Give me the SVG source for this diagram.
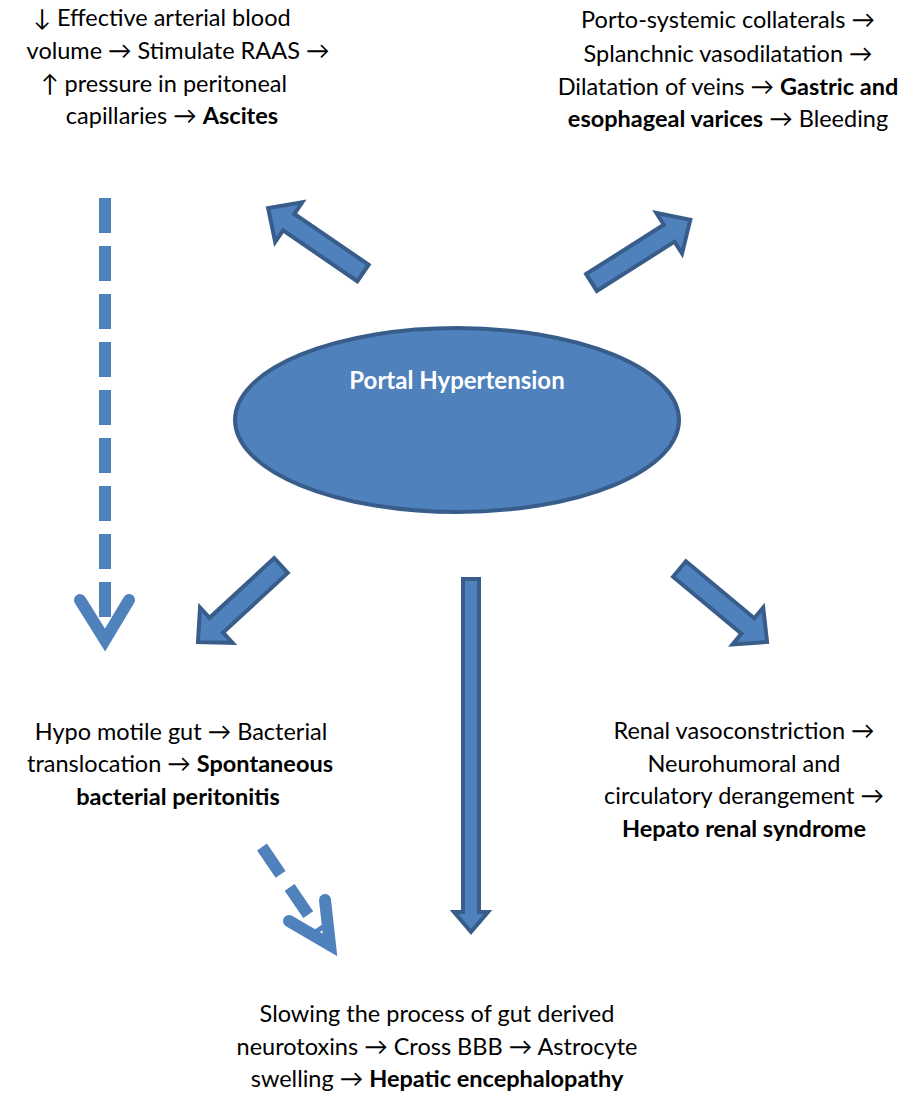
<svg xmlns="http://www.w3.org/2000/svg" width="914" height="1095" viewBox="0 0 914 1095">
<style>
.t{font-family:Lato,"Liberation Sans",sans-serif;font-size:23.5px;fill:#000;text-anchor:middle}
.b{font-weight:bold}
.blk{fill:#4F81BD;stroke:#385D8A;stroke-width:4;stroke-linejoin:miter}
.dash{fill:none;stroke:#4F81BD;stroke-width:12}
.head{fill:none;stroke:#4F81BD;stroke-width:12;stroke-linecap:round;stroke-linejoin:miter}
</style>
<rect width="914" height="1095" fill="#fff"/>
<g id="portal">
<ellipse cx="457" cy="420" rx="222" ry="92" fill="#4F81BD" stroke="#385D8A" stroke-width="4"/>
<text x="457" y="389" class="t b" style="fill:#fff;font-size:24px">Portal Hypertension</text>
</g>
<g id="ascites">
<text class="t" x="162" y="26">↓ Effective arterial blood</text>
<text class="t" x="178" y="59">volume → Stimulate RAAS →</text>
<text class="t" x="164" y="92">↑ pressure in peritoneal</text>
<text class="t" x="172" y="124">capillaries → <tspan class="b">Ascites</tspan></text>
</g>
<g id="varices">
<text class="t" x="728" y="28">Porto-systemic collaterals →</text>
<text class="t" x="728" y="62">Splanchnic vasodilatation →</text>
<text class="t" x="728" y="95">Dilatation of veins → <tspan class="b">Gastric and</tspan></text>
<text class="t" x="728" y="127"><tspan class="b">esophageal varices</tspan> → Bleeding</text>
</g>
<g id="sbp">
<text class="t" x="181" y="740">Hypo motile gut → Bacterial</text>
<text class="t" x="180" y="772">translocation → <tspan class="b">Spontaneous</tspan></text>
<text class="t" x="178" y="805"><tspan class="b">bacterial peritonitis</tspan></text>
</g>
<g id="hrs">
<text class="t" x="744" y="739">Renal vasoconstriction →</text>
<text class="t" x="744" y="772">Neurohumoral and</text>
<text class="t" x="744" y="804">circulatory derangement →</text>
<text class="t b" x="744" y="837">Hepato renal syndrome</text>
</g>
<g id="he">
<text class="t" x="437" y="1022">Slowing the process of gut derived</text>
<text class="t" x="437" y="1055">neurotoxins → Cross BBB → Astrocyte</text>
<text class="t" x="437" y="1087">swelling → <tspan class="b">Hepatic encephalopathy</tspan></text>
</g>
<g id="connectors">
<path class="blk" transform="translate(363,273) rotate(214.4)" d="M0,-10 L90,-10 L90,-24 L115,0 L90,24 L90,10 L0,10 Z"/>
<path class="blk" transform="translate(591.5,282.5) rotate(-32.4)" d="M0,-10 L92,-10 L92,-24 L117,0 L92,24 L92,10 L0,10 Z"/>
<path class="blk" transform="translate(281,565.5) rotate(137.3)" d="M0,-10 L88,-10 L88,-24 L113,0 L88,24 L88,10 L0,10 Z"/>
<path class="blk" transform="translate(679.5,569) rotate(39.8)" d="M0,-10 L89,-10 L89,-24 L114,0 L89,24 L89,10 L0,10 Z"/>
<path class="blk" d="M463,579 L479,579 L479,912 L488,912 L471,932 L454,912 L463,912 Z"/>
<line class="dash" x1="105" y1="198" x2="105" y2="630" stroke-dasharray="35 13"/>
<polyline class="head" points="80,600 105,640 129,600"/>
<line class="dash" x1="262" y1="847" x2="320" y2="932" stroke-dasharray="33 16"/>
<polyline class="head" points="289,921 330,945 325,900"/>
</g>
</svg>
